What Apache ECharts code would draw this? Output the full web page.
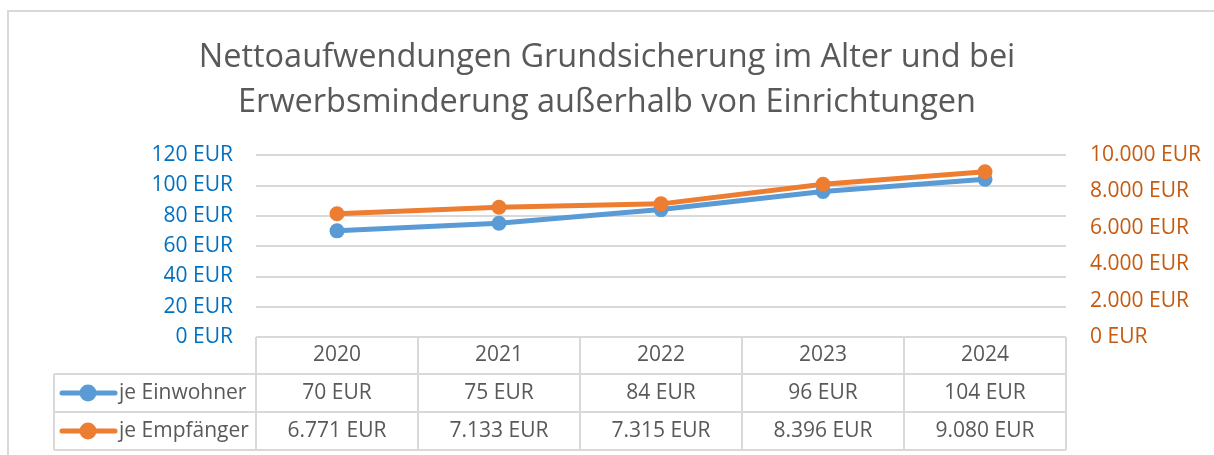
<!DOCTYPE html>
<html>
<head>
<meta charset="utf-8">
<script src="https://cdn.jsdelivr.net/npm/echarts@6/dist/echarts.min.js"></script>
<style>
	html, body { margin: 0; padding: 0; background: #fff; }
	#chart { width: 1214px; height: 455px; }
</style>
</head>
<body>
<div id="chart"></div>
<script>
var years = ["2020", "2021", "2022", "2023", "2024"];
var jeEinwohner = [70, 75, 84, 96, 104];
var jeEmpfaenger = [6771, 7133, 7315, 8396, 9080];
var seriesNames = ["je Einwohner", "je Empfänger"];

var FONT = '"Open Sans", sans-serif';
var BLUE = "#5B9BD5", ORANGE = "#ED7D31";
var TEXT = "#595959", BORDER = "#D9D9D9";

function eur(v){
	var s = String(Math.round(v)).replace(/\B(?=(\d{3})+(?!\d))/g, ".");
	return s + " EUR";
}

var chart = echarts.init(document.getElementById("chart"));

chart.setOption({
	animation: false,
	textStyle: { fontFamily: FONT },
	title: {
		text: "Nettoaufwendungen Grundsicherung im Alter und bei\nErwerbsminderung außerhalb von Einrichtungen",
		left: "center",
		top: 30,
		textStyle: { fontFamily: FONT, fontSize: 32.5, fontWeight: "normal", color: TEXT, lineHeight: 45 }
	},
	grid: { left: 256, right: 148, top: 155, bottom: 118 },
	xAxis: {
		type: "category",
		data: years,
		boundaryGap: true,
		axisLine: { show: false },
		axisTick: { show: false },
		axisLabel: { color: TEXT, fontSize: 21, margin: 8, fontFamily: FONT }
	},
	yAxis: [{
		type: "value",
		min: 0, max: 120, interval: 20,
		axisLine: { show: false },
		axisTick: { show: false },
		axisLabel: { color: "#0070C0", fontSize: 21, margin: 23, fontFamily: FONT, formatter: eur },
		splitLine: { lineStyle: { color: BORDER, width: 2 } }
	}, {
		type: "value",
		min: 0, max: 10000, interval: 2000,
		axisLine: { show: false },
		axisTick: { show: false },
		axisLabel: { color: "#C55A11", fontSize: 21, margin: 24, fontFamily: FONT, formatter: eur },
		splitLine: { show: false }
	}],
	series: [{
		name: seriesNames[0],
		type: "line",
		data: jeEinwohner,
		yAxisIndex: 0,
		symbol: "circle",
		symbolSize: 15,
		lineStyle: { color: BLUE, width: 5 },
		itemStyle: { color: BLUE }
	}, {
		name: seriesNames[1],
		type: "line",
		data: jeEmpfaenger,
		yAxisIndex: 1,
		symbol: "circle",
		symbolSize: 15,
		lineStyle: { color: ORANGE, width: 5 },
		itemStyle: { color: ORANGE }
	}]
});

// data table under the plot, placed from the axis scales
function buildTable(){
	var base = chart.convertToPixel({ yAxisIndex: 0 }, 0);
	var x0 = chart.convertToPixel({ xAxisIndex: 0 }, years[0]);
	var x1 = chart.convertToPixel({ xAxisIndex: 0 }, years[1]);
	var colW = x1 - x0;
	var left = x0 - colW / 2;
	var right = left + colW * years.length;
	var rows = [base, base + 37, base + 75, base + 113];
	var labelLeft = 54;
	var line = { stroke: BORDER, lineWidth: 2 };
	var g = [];

	// outer chart frame
	g.push({ type: "polyline", shape: { points: [[8, 455], [8, 11], [1214, 11]] }, style: line, z: 0 });

	g.push({ type: "line", shape: { x1: left, y1: rows[0], x2: right, y2: rows[0] }, style: line });
	for(var r = 1; r < rows.length; r++){
		g.push({ type: "line", shape: { x1: labelLeft, y1: rows[r], x2: right, y2: rows[r] }, style: line });
	}
	g.push({ type: "line", shape: { x1: labelLeft, y1: rows[1], x2: labelLeft, y2: rows[3] }, style: line });
	for(var c = 0; c <= years.length; c++){
		var cx = left + c * colW;
		g.push({ type: "line", shape: { x1: cx, y1: rows[0], x2: cx, y2: rows[3] }, style: line });
	}

	var dataRows = [jeEinwohner, jeEmpfaenger];
	var colors = [BLUE, ORANGE];
	for(var k = 0; k < dataRows.length; k++){
		var cy = (rows[k + 1] + rows[k + 2]) / 2;
		g.push({ type: "line", shape: { x1: 62, y1: cy, x2: 115, y2: cy }, style: { stroke: colors[k], lineWidth: 5, lineCap: "round" } });
		g.push({ type: "circle", shape: { cx: 88, cy: cy, r: 8.5 }, style: { fill: colors[k] } });
		g.push({ type: "text", x: 119, y: cy, style: { text: seriesNames[k], font: "21px " + FONT, fill: TEXT, verticalAlign: "middle", textAlign: "left" } });
		for(var i = 0; i < years.length; i++){
			var px = chart.convertToPixel({ xAxisIndex: 0 }, years[i]);
			g.push({ type: "text", x: px, y: cy, style: { text: eur(dataRows[k][i]), font: "21px " + FONT, fill: TEXT, verticalAlign: "middle", textAlign: "center" } });
		}
	}
	chart.setOption({ graphic: g });
}
buildTable();
</script>
</body>
</html>
